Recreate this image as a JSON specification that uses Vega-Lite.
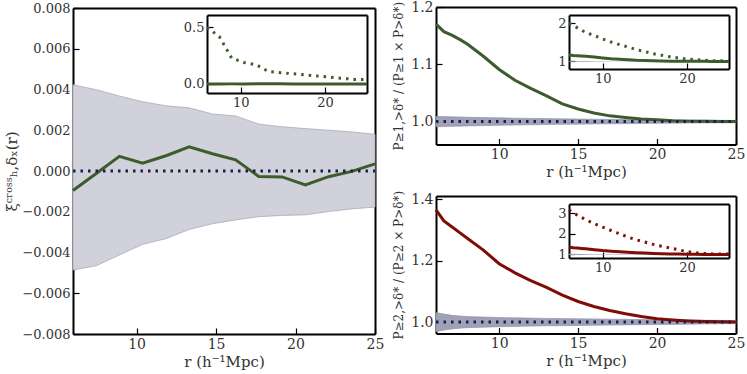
{
  "$schema": "https://vega.github.io/schema/vega-lite/v6.json",
  "width": 747,
  "height": 374,
  "autosize": "none",
  "padding": 0,
  "background": "white",
  "config": {
    "view": {"stroke": null},
    "axis": {
      "grid": false,
      "domainColor": "#000000",
      "domainWidth": 2,
      "tickColor": "#000000",
      "tickWidth": 1.2,
      "tickSize": -6,
      "labelFont": "DejaVu Serif",
      "labelFontSize": 14,
      "labelColor": "#333333",
      "labelPadding": 9,
      "labelFlush": false,
      "labelOverlap": false,
      "titleFont": "DejaVu Serif",
      "titleFontSize": 15,
      "titleFontWeight": "normal",
      "titleColor": "#333333"
    }
  },
  "datasets": {
    "xi": [
      {"r": 6.0, "xi": -0.00096, "lo": -0.00486, "hi": 0.00423, "rel": 0.5},
      {"r": 7.46, "xi": -0.00012, "lo": -0.00465, "hi": 0.00399, "rel": 0.42},
      {"r": 8.92, "xi": 0.00072, "lo": -0.00412, "hi": 0.00368, "rel": 0.23},
      {"r": 10.38, "xi": 0.00038, "lo": -0.0036, "hi": 0.0034, "rel": 0.19},
      {"r": 11.85, "xi": 0.00075, "lo": -0.00332, "hi": 0.0032, "rel": 0.17},
      {"r": 13.31, "xi": 0.00119, "lo": -0.00287, "hi": 0.0031, "rel": 0.11},
      {"r": 14.77, "xi": 0.00085, "lo": -0.00259, "hi": 0.0028, "rel": 0.1},
      {"r": 16.23, "xi": 0.00055, "lo": -0.0024, "hi": 0.0027, "rel": 0.09},
      {"r": 17.69, "xi": -0.00027, "lo": -0.00224, "hi": 0.0023, "rel": 0.08},
      {"r": 19.15, "xi": -0.00029, "lo": -0.00218, "hi": 0.00217, "rel": 0.07},
      {"r": 20.62, "xi": -0.00068, "lo": -0.00215, "hi": 0.00208, "rel": 0.06},
      {"r": 22.08, "xi": -0.00028, "lo": -0.00199, "hi": 0.002, "rel": 0.05},
      {"r": 23.54, "xi": -0.00002, "lo": -0.00186, "hi": 0.00192, "rel": 0.04},
      {"r": 25.0, "xi": 0.00035, "lo": -0.00177, "hi": 0.0018, "rel": 0.04}
    ],
    "ratio": [
      {"r": 6, "p1": 1.17, "p1lo": 0.991, "p1hi": 1.009, "p1dot": 2.0, "p2": 1.365, "p2lo": 0.969, "p2hi": 1.031, "p2dot": 3.15},
      {"r": 6.5, "p1": 1.157, "p1lo": 0.9913, "p1hi": 1.0087, "p1dot": 1.94, "p2": 1.329, "p2lo": 0.974, "p2hi": 1.026, "p2dot": 3.02},
      {"r": 7, "p1": 1.151, "p1lo": 0.9917, "p1hi": 1.0083, "p1dot": 1.88, "p2": 1.31, "p2lo": 0.978, "p2hi": 1.022, "p2dot": 2.9},
      {"r": 7.5, "p1": 1.1435, "p1lo": 0.992, "p1hi": 1.008, "p1dot": 1.82, "p2": 1.291, "p2lo": 0.98, "p2hi": 1.02, "p2dot": 2.79},
      {"r": 8, "p1": 1.135, "p1lo": 0.9924, "p1hi": 1.0076, "p1dot": 1.76, "p2": 1.272, "p2lo": 0.982, "p2hi": 1.018, "p2dot": 2.68},
      {"r": 9, "p1": 1.114, "p1lo": 0.993, "p1hi": 1.007, "p1dot": 1.68, "p2": 1.234, "p2lo": 0.9835, "p2hi": 1.0165, "p2dot": 2.49},
      {"r": 10, "p1": 1.091, "p1lo": 0.9935, "p1hi": 1.0065, "p1dot": 1.59, "p2": 1.19, "p2lo": 0.985, "p2hi": 1.015, "p2dot": 2.32},
      {"r": 11, "p1": 1.072, "p1lo": 0.994, "p1hi": 1.006, "p1dot": 1.51, "p2": 1.16, "p2lo": 0.986, "p2hi": 1.014, "p2dot": 2.16},
      {"r": 12, "p1": 1.058, "p1lo": 0.9944, "p1hi": 1.0056, "p1dot": 1.44, "p2": 1.135, "p2lo": 0.987, "p2hi": 1.013, "p2dot": 2.0},
      {"r": 13, "p1": 1.045, "p1lo": 0.9948, "p1hi": 1.0052, "p1dot": 1.38, "p2": 1.113, "p2lo": 0.988, "p2hi": 1.012, "p2dot": 1.84},
      {"r": 14, "p1": 1.031, "p1lo": 0.9952, "p1hi": 1.0048, "p1dot": 1.31, "p2": 1.088, "p2lo": 0.9885, "p2hi": 1.0115, "p2dot": 1.71},
      {"r": 15, "p1": 1.022, "p1lo": 0.9955, "p1hi": 1.0045, "p1dot": 1.26, "p2": 1.067, "p2lo": 0.989, "p2hi": 1.011, "p2dot": 1.6},
      {"r": 16, "p1": 1.015, "p1lo": 0.9958, "p1hi": 1.0042, "p1dot": 1.2, "p2": 1.051, "p2lo": 0.9897, "p2hi": 1.0103, "p2dot": 1.49},
      {"r": 17, "p1": 1.01, "p1lo": 0.9961, "p1hi": 1.0039, "p1dot": 1.16, "p2": 1.038, "p2lo": 0.9903, "p2hi": 1.0097, "p2dot": 1.4},
      {"r": 18, "p1": 1.007, "p1lo": 0.9964, "p1hi": 1.0036, "p1dot": 1.12, "p2": 1.027, "p2lo": 0.991, "p2hi": 1.009, "p2dot": 1.31},
      {"r": 19, "p1": 1.0045, "p1lo": 0.9967, "p1hi": 1.0033, "p1dot": 1.09, "p2": 1.018, "p2lo": 0.9915, "p2hi": 1.0085, "p2dot": 1.23},
      {"r": 20, "p1": 1.003, "p1lo": 0.997, "p1hi": 1.003, "p1dot": 1.06, "p2": 1.011, "p2lo": 0.992, "p2hi": 1.008, "p2dot": 1.14},
      {"r": 21, "p1": 1.0015, "p1lo": 0.9972, "p1hi": 1.0028, "p1dot": 1.045, "p2": 1.007, "p2lo": 0.9926, "p2hi": 1.0074, "p2dot": 1.08},
      {"r": 22, "p1": 1.0008, "p1lo": 0.9974, "p1hi": 1.0026, "p1dot": 1.03, "p2": 1.004, "p2lo": 0.9932, "p2hi": 1.0068, "p2dot": 1.05},
      {"r": 23, "p1": 1.0004, "p1lo": 0.9976, "p1hi": 1.0024, "p1dot": 1.02, "p2": 1.002, "p2lo": 0.9938, "p2hi": 1.0062, "p2dot": 1.03},
      {"r": 24, "p1": 1.0002, "p1lo": 0.9978, "p1hi": 1.0022, "p1dot": 1.015, "p2": 1.001, "p2lo": 0.9944, "p2hi": 1.0056, "p2dot": 1.02},
      {"r": 25, "p1": 1.0, "p1lo": 0.998, "p1hi": 1.002, "p1dot": 1.01, "p2": 1.0, "p2lo": 0.995, "p2hi": 1.005, "p2dot": 1.02}
    ]
  },
  "layer": [
    {
      "data": {"name": "xi"},
      "layer": [
        {
          "mark": {"type": "area", "color": "#d1d1db", "stroke": "#aaaabc", "strokeWidth": 0.8},
          "encoding": {
            "x": {"field": "r", "type": "quantitative", "scale": {"domain": [6, 25], "range": [73, 375], "nice": false, "zero": false},
                  "axis": {"orient": "bottom", "offset": -40, "values": [10, 15, 20, 25], "title": "r (h⁻¹Mpc)", "titlePadding": 3}},
            "y": {"field": "lo", "type": "quantitative", "scale": {"domain": [-0.008, 0.008], "range": [334, 8], "nice": false, "zero": false},
                  "axis": {"orient": "left", "offset": -73, "values": [-0.008, -0.006, -0.004, -0.002, 0, 0.002, 0.004, 0.006, 0.008], "format": ".3f", "labelFontSize": 13, "title": "ξᶜʳᵒˢˢₕ,δₓ(r)", "titlePadding": 2}},
            "y2": {"field": "hi"}
          }
        },
        {
          "mark": {"type": "line", "color": "#3d5c2e", "strokeWidth": 3},
          "encoding": {
            "x": {"field": "r", "type": "quantitative", "scale": {"domain": [6, 25], "range": [73, 375], "nice": false, "zero": false},
                  "axis": {"orient": "top", "offset": -8, "labels": false, "ticks": false, "title": null}},
            "y": {"field": "xi", "type": "quantitative", "scale": {"domain": [-0.008, 0.008], "range": [334, 8], "nice": false, "zero": false},
                  "axis": {"orient": "right", "offset": -372, "labels": false, "ticks": false, "title": null}}
          }
        },
        {
          "mark": {"type": "line", "color": "#1b1f48", "strokeWidth": 3, "strokeDash": [2.5, 5]},
          "encoding": {
            "x": {"field": "r", "type": "quantitative", "scale": {"domain": [6, 25], "range": [73, 375], "nice": false, "zero": false}, "axis": null},
            "y": {"datum": 0, "type": "quantitative", "scale": {"domain": [-0.008, 0.008], "range": [334, 8], "nice": false, "zero": false}, "axis": null}
          }
        }
      ],
      "resolve": {"axis": {"x": "independent", "y": "independent"}}
    },
    {
      "data": {"name": "xi"},
      "layer": [
        {
          "mark": {"type": "line", "color": "#3d5c2e", "strokeWidth": 3},
          "encoding": {
            "x": {"field": "r", "type": "quantitative", "scale": {"domain": [6, 25], "range": [207, 367], "nice": false, "zero": false},
                  "axis": {"orient": "bottom", "offset": -281, "values": [10, 20], "title": null, "labelFontSize": 13}},
            "y": {"field": "xi", "type": "quantitative", "scale": {"domain": [-0.08, 0.61], "range": [93, 15], "nice": false, "zero": false},
                  "axis": {"orient": "left", "offset": -207, "values": [0, 0.5], "format": ".1f", "title": null, "labelFontSize": 13}}
          }
        },
        {
          "mark": {"type": "line", "color": "#3d5c2e", "strokeWidth": 3, "strokeDash": [2.5, 5]},
          "encoding": {
            "x": {"field": "r", "type": "quantitative", "scale": {"domain": [6, 25], "range": [207, 367], "nice": false, "zero": false},
                  "axis": {"orient": "top", "offset": -15, "labels": false, "ticks": false, "title": null}},
            "y": {"field": "rel", "type": "quantitative", "scale": {"domain": [-0.08, 0.61], "range": [93, 15], "nice": false, "zero": false},
                  "axis": {"orient": "right", "offset": -380, "labels": false, "ticks": false, "title": null}}
          }
        }
      ],
      "resolve": {"axis": {"x": "independent", "y": "independent"}}
    },
    {
      "data": {"name": "ratio"},
      "layer": [
        {
          "mark": {"type": "area", "color": "#a0a0b8", "stroke": "#8b8ba6", "strokeWidth": 0.6},
          "encoding": {
            "x": {"field": "r", "type": "quantitative", "scale": {"domain": [6, 25], "range": [436, 736], "nice": false, "zero": false},
                  "axis": {"orient": "bottom", "offset": -229.5, "values": [10, 15, 20, 25], "title": "r (h⁻¹Mpc)", "titlePadding": 3}},
            "y": {"field": "p1lo", "type": "quantitative", "scale": {"domain": [0.96, 1.2], "range": [144.5, 7], "nice": false, "zero": false},
                  "axis": {"orient": "left", "offset": -436, "values": [1.0, 1.1, 1.2], "format": ".1f", "title": "P≥1,>δ* / (P≥1 × P>δ*)", "titleFontSize": 12, "titlePadding": 5}},
            "y2": {"field": "p1hi"}
          }
        },
        {
          "mark": {"type": "line", "color": "#3d5c2e", "strokeWidth": 3},
          "encoding": {
            "x": {"field": "r", "type": "quantitative", "scale": {"domain": [6, 25], "range": [436, 736], "nice": false, "zero": false},
                  "axis": {"orient": "top", "offset": -7, "labels": false, "ticks": false, "title": null}},
            "y": {"field": "p1", "type": "quantitative", "scale": {"domain": [0.96, 1.2], "range": [144.5, 7], "nice": false, "zero": false},
                  "axis": {"orient": "right", "offset": -11, "labels": false, "ticks": false, "title": null}}
          }
        },
        {
          "mark": {"type": "line", "color": "#1b1f48", "strokeWidth": 3, "strokeDash": [2.5, 5]},
          "encoding": {
            "x": {"field": "r", "type": "quantitative", "scale": {"domain": [6, 25], "range": [436, 736], "nice": false, "zero": false}, "axis": null},
            "y": {"datum": 1, "type": "quantitative", "scale": {"domain": [0.96, 1.2], "range": [144.5, 7], "nice": false, "zero": false}, "axis": null}
          }
        }
      ],
      "resolve": {"axis": {"x": "independent", "y": "independent"}}
    },
    {
      "data": {"name": "ratio"},
      "layer": [
        {
          "mark": {"type": "area", "color": "#a0a0b8"},
          "encoding": {
            "x": {"field": "r", "type": "quantitative", "scale": {"domain": [6, 25], "range": [569, 729], "nice": false, "zero": false},
                  "axis": {"orient": "bottom", "offset": -305, "values": [10, 20], "title": null, "labelFontSize": 13}},
            "y": {"field": "p1lo", "type": "quantitative", "scale": {"domain": [0.8, 2.22], "range": [69, 15], "nice": false, "zero": false},
                  "axis": {"orient": "left", "offset": -569, "values": [1, 2], "format": "d", "title": null, "labelFontSize": 13}},
            "y2": {"field": "p1hi"}
          }
        },
        {
          "mark": {"type": "line", "color": "#3d5c2e", "strokeWidth": 3},
          "encoding": {
            "x": {"field": "r", "type": "quantitative", "scale": {"domain": [6, 25], "range": [569, 729], "nice": false, "zero": false},
                  "axis": {"orient": "top", "offset": -15, "labels": false, "ticks": false, "title": null}},
            "y": {"field": "p1", "type": "quantitative", "scale": {"domain": [0.8, 2.22], "range": [69, 15], "nice": false, "zero": false},
                  "axis": {"orient": "right", "offset": -18, "labels": false, "ticks": false, "title": null}}
          }
        },
        {
          "mark": {"type": "line", "color": "#3d5c2e", "strokeWidth": 3, "strokeDash": [2.5, 5]},
          "encoding": {
            "x": {"field": "r", "type": "quantitative", "scale": {"domain": [6, 25], "range": [569, 729], "nice": false, "zero": false}, "axis": null},
            "y": {"field": "p1dot", "type": "quantitative", "scale": {"domain": [0.8, 2.22], "range": [69, 15], "nice": false, "zero": false}, "axis": null}
          }
        }
      ],
      "resolve": {"axis": {"x": "independent", "y": "independent"}}
    },
    {
      "data": {"name": "ratio"},
      "layer": [
        {
          "mark": {"type": "area", "color": "#a0a0b8", "stroke": "#8b8ba6", "strokeWidth": 0.6},
          "encoding": {
            "x": {"field": "r", "type": "quantitative", "scale": {"domain": [6, 25], "range": [436, 736], "nice": false, "zero": false},
                  "axis": {"orient": "bottom", "offset": -40.5, "values": [10, 15, 20, 25], "title": "r (h⁻¹Mpc)", "titlePadding": 3}},
            "y": {"field": "p2lo", "type": "quantitative", "scale": {"domain": [0.963, 1.41], "range": [333.5, 196], "nice": false, "zero": false},
                  "axis": {"orient": "left", "offset": -436, "values": [1.0, 1.2, 1.4], "format": ".1f", "title": "P≥2,>δ* / (P≥2 × P>δ*)", "titleFontSize": 12, "titlePadding": 5}},
            "y2": {"field": "p2hi"}
          }
        },
        {
          "mark": {"type": "line", "color": "#7f0c06", "strokeWidth": 3},
          "encoding": {
            "x": {"field": "r", "type": "quantitative", "scale": {"domain": [6, 25], "range": [436, 736], "nice": false, "zero": false},
                  "axis": {"orient": "top", "offset": -196, "labels": false, "ticks": false, "title": null}},
            "y": {"field": "p2", "type": "quantitative", "scale": {"domain": [0.963, 1.41], "range": [333.5, 196], "nice": false, "zero": false},
                  "axis": {"orient": "right", "offset": -11, "labels": false, "ticks": false, "title": null}}
          }
        },
        {
          "mark": {"type": "line", "color": "#1b1f48", "strokeWidth": 3, "strokeDash": [2.5, 5]},
          "encoding": {
            "x": {"field": "r", "type": "quantitative", "scale": {"domain": [6, 25], "range": [436, 736], "nice": false, "zero": false}, "axis": null},
            "y": {"datum": 1, "type": "quantitative", "scale": {"domain": [0.963, 1.41], "range": [333.5, 196], "nice": false, "zero": false}, "axis": null}
          }
        }
      ],
      "resolve": {"axis": {"x": "independent", "y": "independent"}}
    },
    {
      "data": {"name": "ratio"},
      "layer": [
        {
          "mark": {"type": "area", "color": "#a0a0b8"},
          "encoding": {
            "x": {"field": "r", "type": "quantitative", "scale": {"domain": [6, 25], "range": [569, 729], "nice": false, "zero": false},
                  "axis": {"orient": "bottom", "offset": -116, "values": [10, 20], "title": null, "labelFontSize": 13}},
            "y": {"field": "p2lo", "type": "quantitative", "scale": {"domain": [0.83, 3.44], "range": [258, 204], "nice": false, "zero": false},
                  "axis": {"orient": "left", "offset": -569, "values": [1, 2, 3], "format": "d", "title": null, "labelFontSize": 13}},
            "y2": {"field": "p2hi"}
          }
        },
        {
          "mark": {"type": "line", "color": "#7f0c06", "strokeWidth": 3},
          "encoding": {
            "x": {"field": "r", "type": "quantitative", "scale": {"domain": [6, 25], "range": [569, 729], "nice": false, "zero": false},
                  "axis": {"orient": "top", "offset": -204, "labels": false, "ticks": false, "title": null}},
            "y": {"field": "p2", "type": "quantitative", "scale": {"domain": [0.83, 3.44], "range": [258, 204], "nice": false, "zero": false},
                  "axis": {"orient": "right", "offset": -18, "labels": false, "ticks": false, "title": null}}
          }
        },
        {
          "mark": {"type": "line", "color": "#7f0c06", "strokeWidth": 3, "strokeDash": [2.5, 5]},
          "encoding": {
            "x": {"field": "r", "type": "quantitative", "scale": {"domain": [6, 25], "range": [569, 729], "nice": false, "zero": false}, "axis": null},
            "y": {"field": "p2dot", "type": "quantitative", "scale": {"domain": [0.83, 3.44], "range": [258, 204], "nice": false, "zero": false}, "axis": null}
          }
        }
      ],
      "resolve": {"axis": {"x": "independent", "y": "independent"}}
    }
  ],
  "resolve": {"scale": {"x": "independent", "y": "independent"}, "axis": {"x": "independent", "y": "independent"}}
}
